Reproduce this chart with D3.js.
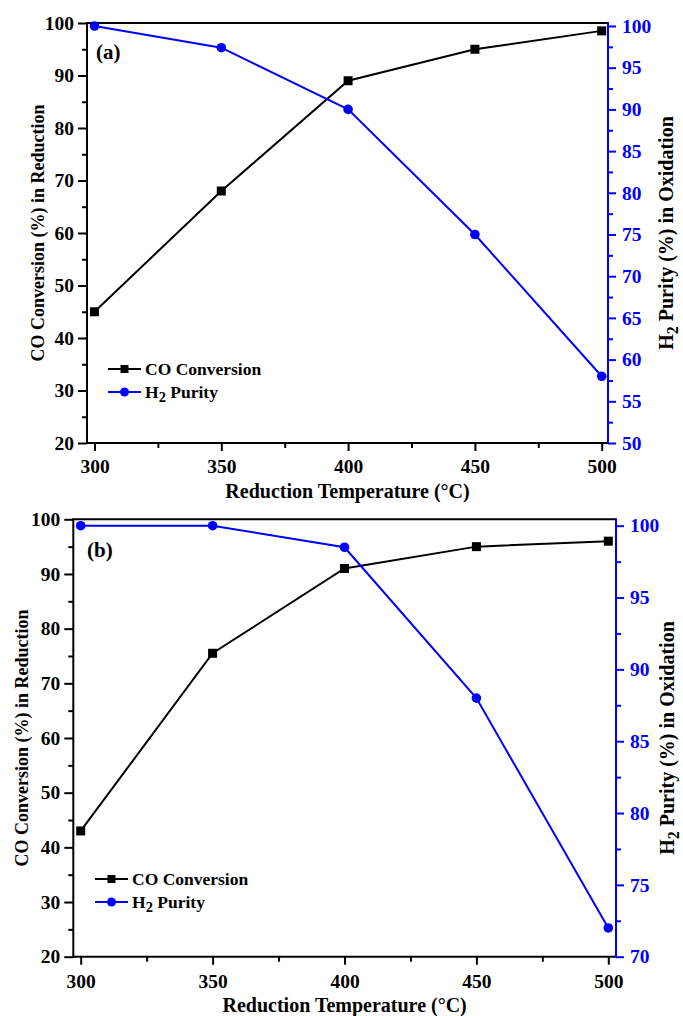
<!DOCTYPE html>
<html><head><meta charset="utf-8">
<script src="https://cdn.jsdelivr.net/npm/d3@7"></script>
<style>
body{margin:0;background:#fff;}
svg{display:block;font-family:"Liberation Serif","Times New Roman",serif;font-weight:bold;}
</style></head>
<body><svg id="c" width="683" height="1016"></svg>
<script>
const temperatures = [300, 350, 400, 450, 500];
const coConversionA = [45, 68, 89, 95, 98.5];
const h2PurityA = [100, 97.4, 90, 75, 58];
const coConversionB = [43, 75.5, 91, 95, 96];
const h2PurityB = [100, 100, 98.5, 88, 72];
const xTicks = [300, 350, 400, 450, 500];
const xMinor = [325, 375, 425, 475];
const leftTicks = [20, 30, 40, 50, 60, 70, 80, 90, 100];
const leftMinor = [25, 35, 45, 55, 65, 75, 85, 95];
const rightTicksA = [50, 55, 60, 65, 70, 75, 80, 85, 90, 95, 100];
const rightMinorA = [52.5, 57.5, 62.5, 67.5, 72.5, 77.5, 82.5, 87.5, 92.5, 97.5];
const rightTicksB = [70, 75, 80, 85, 90, 95, 100];
const rightMinorB = [72.5, 77.5, 82.5, 87.5, 92.5, 97.5];
const panelLabels = ["(a)", "(b)"];
const xTitle = "Reduction Temperature (°C)";
const leftTitle = "CO Conversion (%) in Reduction";
const legendCO = "CO Conversion";

const svg = d3.select("#c");
const BLUE = "#0000ff";
const TICKFS = 19.5;

function panel(cfg) {
  const g = svg.append("g");
  const x = d3.scaleLinear().domain([300, 500]).range([cfg.x300, cfg.x500]);
  const yL = d3.scaleLinear().domain([20, 100]).range([cfg.bottom, cfg.top]);
  const yR = d3.scaleLinear().domain([cfg.rMin, 100]).range([cfg.bottom, cfg.r100]);

  g.append("line").attr("x1", cfg.left).attr("x2", cfg.right).attr("y1", cfg.top).attr("y2", cfg.top)
    .attr("stroke", "#000").attr("stroke-width", 2);

  function styleAxis(a, color) {
    a.attr("font-family", null).attr("font-size", null);
    a.selectAll("path").attr("stroke", color).attr("stroke-width", 2);
    a.selectAll("line").attr("stroke", color).attr("stroke-width", 2);
    a.selectAll("text").attr("fill", color).attr("font-family", "Liberation Serif").attr("font-weight", "bold").attr("font-size", TICKFS);
  }

  const xb = g.append("g").attr("transform", `translate(0,${cfg.bottom})`)
    .call(d3.axisBottom(x).tickValues(xTicks).tickSize(8).tickSizeOuter(0).tickPadding(cfg.xPad).tickFormat(d3.format("d")));
  xb.select("path").remove();
  styleAxis(xb, "#000");
  const xbm = g.append("g").attr("transform", `translate(0,${cfg.bottom})`)
    .call(d3.axisBottom(x).tickValues(xMinor).tickSize(5).tickFormat(""));
  xbm.select("path").remove();
  styleAxis(xbm, "#000");
  g.append("line").attr("x1", cfg.left).attr("x2", cfg.right).attr("y1", cfg.bottom).attr("y2", cfg.bottom)
    .attr("stroke", "#000").attr("stroke-width", 2);

  const yl = g.append("g").attr("transform", `translate(${cfg.left},0)`)
    .call(d3.axisLeft(yL).tickValues(leftTicks).tickSize(9).tickSizeOuter(0).tickPadding(4).tickFormat(d3.format("d")));
  yl.select("path").remove();
  styleAxis(yl, "#000");
  const ylm = g.append("g").attr("transform", `translate(${cfg.left},0)`)
    .call(d3.axisLeft(yL).tickValues(leftMinor).tickSize(5).tickFormat(""));
  ylm.select("path").remove();
  styleAxis(ylm, "#000");
  g.append("line").attr("x1", cfg.left).attr("x2", cfg.left).attr("y1", cfg.top - 1).attr("y2", cfg.bottom + 1)
    .attr("stroke", "#000").attr("stroke-width", 2);

  const yr = g.append("g").attr("transform", `translate(${cfg.right},0)`)
    .call(d3.axisRight(yR).tickValues(cfg.rTicks).tickSize(8).tickSizeOuter(0).tickPadding(6).tickFormat(d3.format("d")));
  yr.select("path").remove();
  styleAxis(yr, BLUE);
  const yrm = g.append("g").attr("transform", `translate(${cfg.right},0)`)
    .call(d3.axisRight(yR).tickValues(cfg.rMinor).tickSize(5).tickFormat(""));
  yrm.select("path").remove();
  styleAxis(yrm, BLUE);
  g.append("line").attr("x1", cfg.right).attr("x2", cfg.right).attr("y1", cfg.top - 1).attr("y2", cfg.bottom + 1)
    .attr("stroke", BLUE).attr("stroke-width", 2);

  const pts = (vals) => temperatures.map((t, i) => [t, vals[i]]);
  g.append("path").datum(pts(cfg.co))
    .attr("d", d3.line().x(d => x(d[0])).y(d => yL(d[1])))
    .attr("fill", "none").attr("stroke", "#000").attr("stroke-width", 2);
  g.selectAll(".sq").data(pts(cfg.co)).enter().append("rect")
    .attr("x", d => x(d[0]) - 4.5).attr("y", d => yL(d[1]) - 4.5)
    .attr("width", 9).attr("height", 9).attr("fill", "#000");
  g.append("path").datum(pts(cfg.h2))
    .attr("d", d3.line().x(d => x(d[0])).y(d => yR(d[1])))
    .attr("fill", "none").attr("stroke", BLUE).attr("stroke-width", 2);
  g.selectAll(".ci").data(pts(cfg.h2)).enter().append("circle")
    .attr("cx", d => x(d[0])).attr("cy", d => yR(d[1])).attr("r", 4.8).attr("fill", BLUE);

  g.append("text").attr("x", cfg.labX).attr("y", cfg.labY).attr("font-size", 21).attr("fill", "#000").text(cfg.label);

  const lx = cfg.legX, ly = cfg.legY;
  g.append("line").attr("x1", lx).attr("x2", lx + 33).attr("y1", ly).attr("y2", ly).attr("stroke", "#000").attr("stroke-width", 2);
  g.append("rect").attr("x", lx + 16.5 - 4).attr("y", ly - 4).attr("width", 8).attr("height", 8).attr("fill", "#000");
  g.append("text").attr("x", lx + 37).attr("y", ly + 6).attr("font-size", 17.5).attr("fill", "#000").text(legendCO);
  const ly2 = ly + 23;
  g.append("line").attr("x1", lx).attr("x2", lx + 33).attr("y1", ly2).attr("y2", ly2).attr("stroke", BLUE).attr("stroke-width", 2);
  g.append("circle").attr("cx", lx + 16.5).attr("cy", ly2).attr("r", 4.5).attr("fill", BLUE);
  const t2 = g.append("text").attr("x", lx + 37).attr("y", ly2 + 6).attr("font-size", 17.5).attr("fill", "#000");
  t2.append("tspan").text("H");
  t2.append("tspan").attr("dy", 4).attr("font-size", 14.5).text("2");
  t2.append("tspan").attr("dy", -4).text(" Purity");

  const midX = (cfg.left + cfg.right) / 2;
  g.append("text").attr("x", midX).attr("y", cfg.xTitleY).attr("text-anchor", "middle").attr("font-size", 20).attr("fill", "#000").text(xTitle);
  const midY = (cfg.top + cfg.bottom) / 2;
  g.append("text").attr("transform", `translate(${cfg.lTitleX},${midY}) rotate(-90)`).attr("text-anchor", "middle")
    .attr("font-size", 18).attr("fill", "#000").text(leftTitle);
  const rt = g.append("text").attr("transform", `translate(${cfg.rTitleX},${midY}) rotate(-90)`).attr("text-anchor", "middle")
    .attr("font-size", 20).attr("fill", "#000");
  rt.append("tspan").text("H");
  rt.append("tspan").attr("dy", 5).attr("font-size", 16).text("2");
  rt.append("tspan").attr("dy", -5).text(" Purity (%) in Oxidation");
}

panel({
  left: 87, right: 608, top: 23, bottom: 443, x300: 94.5, x500: 601.7,
  rMin: 50, r100: 26, rTicks: rightTicksA, rMinor: rightMinorA,
  co: coConversionA, h2: h2PurityA, label: panelLabels[0], labX: 96, labY: 59, xPad: 8,
  legX: 108, legY: 369, xTitleY: 498, lTitleX: 44, rTitleX: 673
});
panel({
  left: 73.3, right: 616, top: 519.3, bottom: 956.7, x300: 80.7, x500: 608.3,
  rMin: 70, r100: 525.7, rTicks: rightTicksB, rMinor: rightMinorB,
  co: coConversionB, h2: h2PurityB, label: panelLabels[1], labX: 87, labY: 557, xPad: 9,
  legX: 95, legY: 879, xTitleY: 1012, lTitleX: 28, rTitleX: 674
});
</script></body></html>
